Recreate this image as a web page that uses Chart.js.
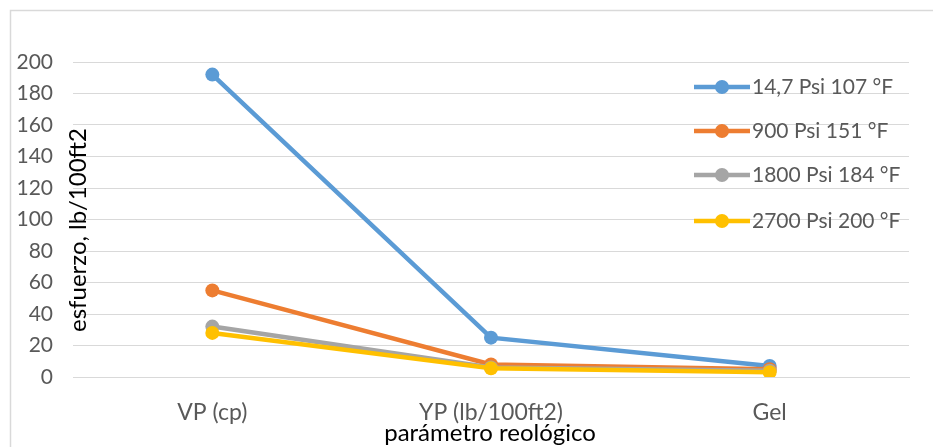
<!DOCTYPE html>
<html lang="es">
  <head>
    <meta charset="UTF-8" />
    <title>Esfuerzo vs parámetro reológico</title>
    <style>
      html, body { margin: 0; padding: 0; background: #fff; }
      #wrap { width: 933px; height: 447px; }
    </style>
  </head>
  <body>
    <div id="wrap"><canvas id="chart" width="933" height="447"></canvas></div>
    <script src="https://cdn.jsdelivr.net/npm/chart.js"></script>
    <script>
      const categories = ["VP (cp)", "YP (lb/100ft2)", "Gel"];
      const seriesNames = ["14,7 Psi 107 °F", "900 Psi 151 °F", "1800 Psi 184 °F", "2700 Psi 200 °F"];
      const s14 = [192, 25, 7];
      const s900 = [55, 8, 5];
      const s1800 = [32, 6, 4];
      const s2700 = [28, 5.5, 3];
      const yTicks = [0, 20, 40, 60, 80, 100, 120, 140, 160, 180, 200];

      const colors = ["#5B9BD5", "#ED7D31", "#A5A5A5", "#FFC000"];
      const values = [s14, s900, s1800, s2700];
      const fontFam = "Lato, 'Open Sans', sans-serif";

      const datasets = values.map((v, i) => ({
        label: seriesNames[i],
        data: v,
        borderColor: colors[i],
        backgroundColor: colors[i],
        borderWidth: 4.5,
        pointRadius: 7,
        pointHoverRadius: 7,
        pointBorderWidth: 0,
        tension: 0,
        order: 4 - i
      }));

      // frame, axis titles and legend drawn on top
      const extras = {
        id: "extras",
        afterDraw(chart) {
          const ctx = chart.ctx;
          ctx.save();
          ctx.strokeStyle = "#d9d9d9";
          ctx.lineWidth = 1.5;
          ctx.beginPath();
          ctx.moveTo(10.5, 447);
          ctx.lineTo(10.5, 10.5);
          ctx.lineTo(933, 10.5);
          ctx.stroke();

          ctx.fillStyle = "#000";
          ctx.font = "24px " + fontFam;
          ctx.textAlign = "center";
          ctx.textBaseline = "middle";
          ctx.fillText("parámetro reológico", 490, 433);

          ctx.save();
          ctx.translate(78, 230);
          ctx.rotate(-Math.PI / 2);
          ctx.fillText("esfuerzo, lb/100ft2", 0, 0);
          ctx.restore();

          const rows = [87, 131, 175, 221];
          chart.data.datasets.forEach((ds, i) => {
            const y = rows[i];
            ctx.strokeStyle = ds.borderColor;
            ctx.lineWidth = 4.5;
            ctx.beginPath();
            ctx.moveTo(694, y);
            ctx.lineTo(750, y);
            ctx.stroke();
            ctx.fillStyle = ds.borderColor;
            ctx.beginPath();
            ctx.arc(722, y, 7, 0, Math.PI * 2);
            ctx.fill();
            ctx.fillStyle = "#595959";
            ctx.font = "21px " + fontFam;
            ctx.textAlign = "left";
            ctx.fillText(ds.label, 752, y);
          });
          ctx.restore();
        }
      };

      new Chart(document.getElementById("chart"), {
        type: "line",
        data: { labels: categories, datasets: datasets },
        options: {
          responsive: false,
          animation: false,
          layout: { padding: { left: 0, right: 24, top: 62, bottom: 0 } },
          plugins: { legend: { display: false }, tooltip: { enabled: false } },
          scales: {
            x: {
              offset: true,
              grid: { display: false },
              border: { display: true, color: "#d9d9d9" },
              ticks: { color: "#595959", font: { family: fontFam, size: 23 }, padding: 14 },
              afterFit(scale) { scale.height = 70; }
            },
            y: {
              min: 0,
              max: 200,
              afterBuildTicks(scale) { scale.ticks = yTicks.map(v => ({ value: v })); },
              grid: { color: "#d9d9d9", drawTicks: false },
              border: { display: false },
              ticks: { color: "#595959", font: { family: fontFam, size: 21 }, padding: 20 },
              afterFit(scale) { scale.width = 73; }
            }
          }
        },
        plugins: [extras]
      });
    </script>
  </body>
</html>
